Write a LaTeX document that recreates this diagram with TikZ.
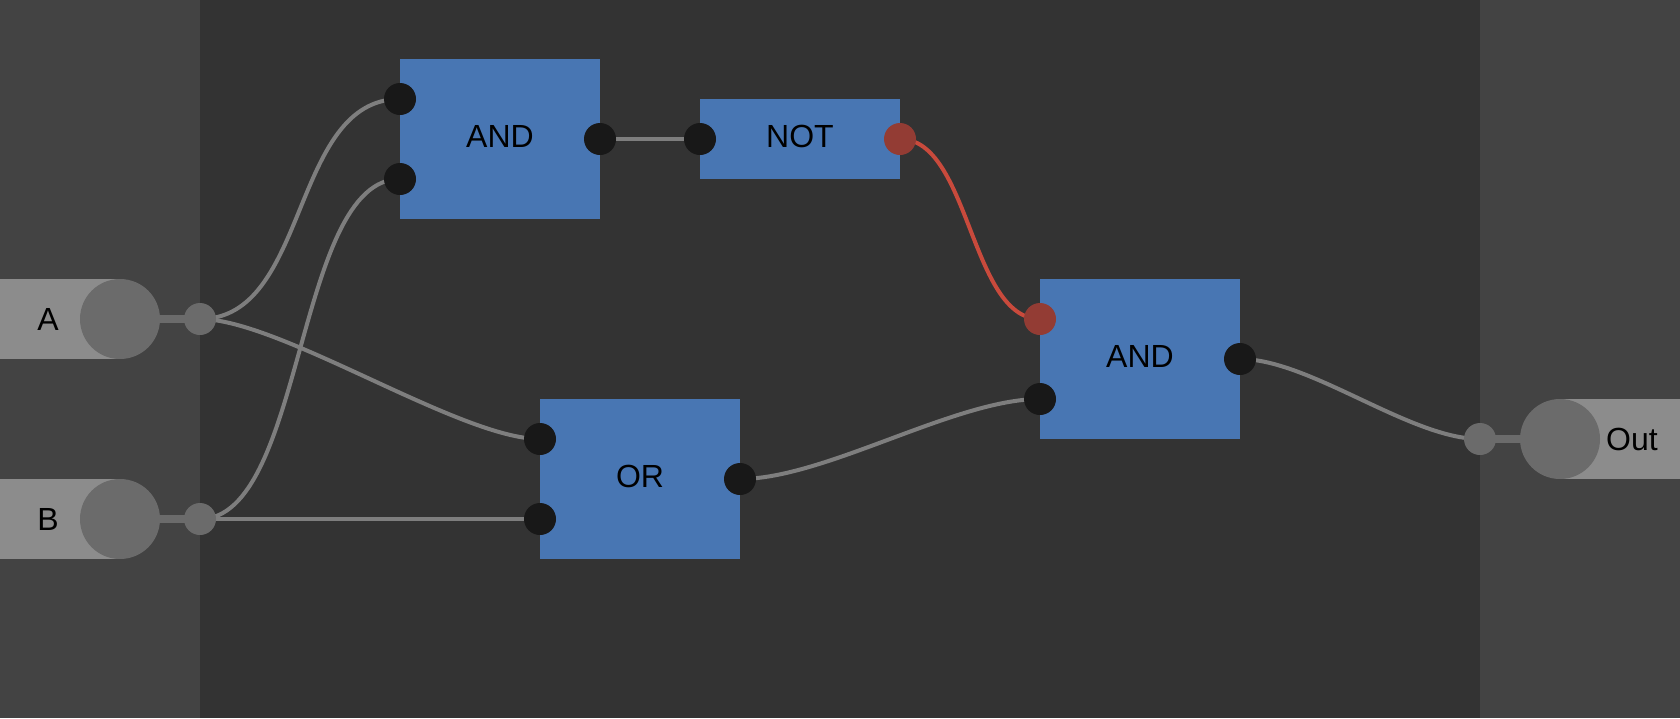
\documentclass[tikz,border=0pt]{standalone}
\usepackage{fontspec}
\setmainfont{Liberation Sans}
\definecolor{bgdark}{HTML}{333333}
\definecolor{panel}{HTML}{434343}
\definecolor{gateblue}{HTML}{4876B3}
\definecolor{portblack}{HTML}{181818}
\definecolor{portred}{HTML}{933C34}
\definecolor{wirered}{HTML}{C94A3C}
\definecolor{wiregray}{HTML}{7E7E7E}
\definecolor{termlight}{HTML}{8C8C8C}
\definecolor{termdark}{HTML}{6B6B6B}
\pgfdeclarelayer{bglayer}
\pgfdeclarelayer{wirelayer}
\pgfsetlayers{bglayer,wirelayer,main}
\begin{document}
\begin{tikzpicture}[x=1pt,y=-1pt,
  gate/.style={fill=gateblue, draw=none, inner sep=0pt, minimum width=200pt, text=black, font=\fontsize{32}{38}\selectfont, text height=23pt, text depth=6.6pt},
  port/.style={circle, fill=portblack, draw=none, inner sep=0pt, minimum size=32pt},
  redport/.style={port, fill=portred},
  hub/.style={circle, fill=termdark, draw=none, inner sep=0pt, minimum size=32pt},
  termcirc/.style={circle, fill=termdark, draw=none, inner sep=0pt, minimum size=80pt},
  termtext/.style={text=black, font=\fontsize{32}{38}\selectfont, inner sep=0pt},
  wire/.style={draw=wiregray, line width=4pt},
  redwire/.style={draw=wirered, line width=4pt},
  stub/.style={draw=termdark, line width=8pt}]
\useasboundingbox (0,0) rectangle (1680,718);
\begin{pgfonlayer}{bglayer}
\fill[bgdark] (0,0) rectangle (1680,718);
\fill[panel] (0,0) rectangle (200,718);
\fill[panel] (1480,0) rectangle (1680,718);
\fill[termlight] (0,279) rectangle (120,359);
\fill[termlight] (0,479) rectangle (120,559);
\fill[termlight] (1560,399) rectangle (1680,479);
\end{pgfonlayer}

% terminals
\node[termcirc] (Ac) at (120,319) {};
\node[termtext] (Atxt) at (48,319) {A};
\node[termcirc] (Bc) at (120,519) {};
\node[termtext] (Btxt) at (48,519) {B};
\node[termcirc] (Oc) at (1560,439) {};
\node[termtext] (Otxt) at (1632,439) {Out};

% gates
\node[gate, minimum height=160pt] (and1) at (500,139) {AND};
\node[gate, minimum height=80pt] (not) at (800,139) {NOT};
\node[gate, minimum height=160pt] (or) at (640,479) {OR};
\node[gate, minimum height=160pt] (and2) at (1140,359) {AND};

% hubs
\node[hub] (Ah) at (200,319) {};
\node[hub] (Bh) at (200,519) {};
\node[hub] (Oh) at (1480,439) {};

% ports
\node[port] (and1a) at (400,99) {};
\node[port] (and1b) at (400,179) {};
\node[port] (and1o) at (600,139) {};
\node[port] (noti) at (700,139) {};
\node[redport] (noto) at (900,139) {};
\node[port] (ora) at (540,439) {};
\node[port] (orb) at (540,519) {};
\node[port] (oro) at (740,479) {};
\node[redport] (and2a) at (1040,319) {};
\node[port] (and2b) at (1040,399) {};
\node[port] (and2o) at (1240,359) {};

\begin{pgfonlayer}{wirelayer}
\draw[stub] (Ac.center) -- (Ah.center);
\draw[stub] (Bc.center) -- (Bh.center);
\draw[stub] (Oh.center) -- (Oc.center);
\draw[wire] (Ah.center) .. controls +(110,0) and +(-110,0) .. (and1a.center);
\draw[wire] (Bh.center) .. controls +(105,0) and +(-105,0) .. (and1b.center);
\draw[wire] (Ah.center) .. controls +(80,0) and +(-80,0) .. (ora.center);
\draw[wire] (Bh.center) -- (orb.center);
\draw[wire] (and1o.center) -- (noti.center);
\draw[redwire] (noto.center) .. controls +(70,0) and +(-70,0) .. (and2a.center);
\draw[wire] (oro.center) .. controls +(85,0) and +(-85,0) .. (and2b.center);
\draw[wire] (and2o.center) .. controls +(70,0) and +(-70,0) .. (Oh.center);
\end{pgfonlayer}
\end{tikzpicture}
\end{document}
